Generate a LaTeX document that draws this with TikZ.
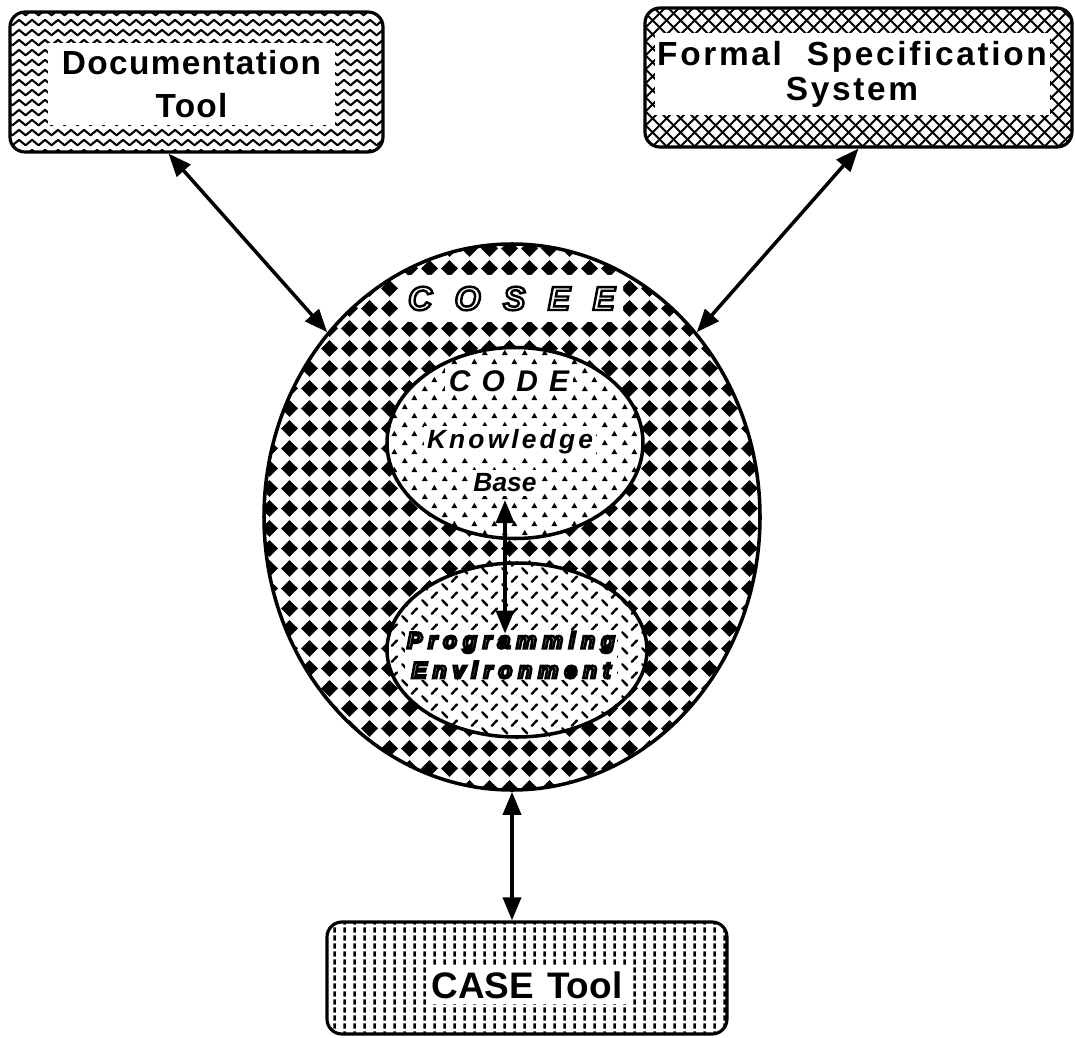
\documentclass[tikz,border=0pt]{standalone}
\usepackage{fontspec}
\setmainfont{Liberation Sans}
\usepackage{xcolor}
\usetikzlibrary{
    arrows.meta,
    shapes,
    positioning,
    patterns
}
% fill tiles
\pgfdeclarepatternformonly{checker}{\pgfpointorigin}{\pgfqpoint{11.4pt}{11.4pt}}{\pgfqpoint{11.4pt}{11.4pt}}{%
    \pgfpathmoveto{\pgfqpoint{0.7pt}{5.7pt}}\pgfpathlineto{\pgfqpoint{5.7pt}{10.7pt}}%
    \pgfpathlineto{\pgfqpoint{10.7pt}{5.7pt}}\pgfpathlineto{\pgfqpoint{5.7pt}{0.7pt}}\pgfpathclose
    \pgfusepath{fill}}
\pgfdeclarepatternformonly{waves}{\pgfpointorigin}{\pgfqpoint{7.4pt}{5.7pt}}{\pgfqpoint{7.4pt}{5.7pt}}{%
    \pgfsetlinewidth{1.3pt}\pgfsetroundjoin
    \pgfpathmoveto{\pgfqpoint{-0.5pt}{0.9pt}}\pgfpathlineto{\pgfqpoint{3.7pt}{4.4pt}}%
    \pgfpathlineto{\pgfqpoint{7.9pt}{0.9pt}}\pgfusepath{stroke}}
\pgfdeclarepatternformonly{crosses}{\pgfpointorigin}{\pgfqpoint{8pt}{8pt}}{\pgfqpoint{8pt}{8pt}}{%
    \pgfsetlinewidth{1.2pt}
    \pgfpathmoveto{\pgfqpoint{-1pt}{-1pt}}\pgfpathlineto{\pgfqpoint{9pt}{9pt}}%
    \pgfpathmoveto{\pgfqpoint{-1pt}{9pt}}\pgfpathlineto{\pgfqpoint{9pt}{-1pt}}\pgfusepath{stroke}}
\pgfdeclarepatternformonly{carets}{\pgfpointorigin}{\pgfqpoint{11.4pt}{10.2pt}}{\pgfqpoint{11.4pt}{10.2pt}}{%
    \pgfpathmoveto{\pgfqpoint{1.1pt}{1.1pt}}\pgfpathlineto{\pgfqpoint{2.85pt}{4.1pt}}\pgfpathlineto{\pgfqpoint{4.6pt}{1.1pt}}\pgfpathclose
    \pgfpathmoveto{\pgfqpoint{6.8pt}{6.2pt}}\pgfpathlineto{\pgfqpoint{8.55pt}{9.2pt}}\pgfpathlineto{\pgfqpoint{10.3pt}{6.2pt}}\pgfpathclose
    \pgfusepath{fill}}
\pgfdeclarepatternformonly{ticks}{\pgfpointorigin}{\pgfqpoint{11.4pt}{9.1pt}}{\pgfqpoint{11.4pt}{9.1pt}}{%
    \pgfsetlinewidth{1.4pt}\pgfsetroundcap
    \pgfpathmoveto{\pgfqpoint{1.3pt}{3.9pt}}\pgfpathlineto{\pgfqpoint{4.4pt}{0.8pt}}%
    \pgfpathmoveto{\pgfqpoint{7pt}{5.2pt}}\pgfpathlineto{\pgfqpoint{10.1pt}{8.3pt}}\pgfusepath{stroke}}
\pgfdeclarepatternformonly{dashcols}{\pgfpointorigin}{\pgfqpoint{5.7pt}{4.55pt}}{\pgfqpoint{5.7pt}{4.55pt}}{%
    \pgfsetlinewidth{1.6pt}
    \pgfpathmoveto{\pgfqpoint{2.85pt}{0.8pt}}\pgfpathlineto{\pgfqpoint{2.85pt}{3.7pt}}\pgfusepath{stroke}}
% hollow letters: stroke only
\newcommand\outl[2][0.9]{\special{pdf:literal direct 1 Tr #1 w}#2\special{pdf:literal direct 0 Tr}}
\tikzset{%
    >={Triangle[width=3.6mm,length=4.6mm]},
    % boxes, blobs and their texts
    toolbox/.style = {rectangle, rounded corners=0.3cm, draw=black, line width=1.8pt, inner sep=0pt},
    whitebox/.style = {rectangle, fill=white, align=center, inner sep=0pt,
        font=\bfseries\fontsize{19}{24}\selectfont},
    blob/.style = {ellipse, draw=black, line width=2pt, inner sep=0pt, preaction={fill=white}},
    blobtext/.style = {fill=white, align=center, inner sep=2pt},
    link/.style = {<->, line width=2pt}
}
\begin{document}
\begin{tikzpicture}
\useasboundingbox (0,0) rectangle (21.5,-20.76);
% the three tools
\node[toolbox, pattern=waves, minimum width=7.46cm, minimum height=2.8cm] (doc) at (3.93,-1.64) {};
\node[whitebox, minimum width=5.74cm, minimum height=1.64cm] (doctext) at (3.83,-1.68)
    {\addfontfeature{LetterSpace=4}Documentation\hspace{0.6cm}\\\addfontfeature{LetterSpace=4}Tool\hspace{0.6cm}};
\node[toolbox, pattern=crosses, minimum width=8.54cm, minimum height=2.78cm] (formal) at (17.17,-1.55) {};
\node[whitebox, minimum width=7.9cm, minimum height=1.64cm, font=\bfseries\fontsize{19}{20}\selectfont] (formaltext) at (17.04,-1.48)
    {\addfontfeature{LetterSpace=8}Formal\hspace{0.5cm}Specification\\\addfontfeature{LetterSpace=8}System\hspace{1.1cm}};
\node[toolbox, pattern=dashcols, minimum width=8cm, minimum height=2.24cm] (case) at (10.54,-19.56) {};
\node[whitebox, inner sep=3pt, font=\bfseries\fontsize{21}{24}\selectfont] (casetext) at (10.54,-19.7) {CASE\hspace{0.35em}Tool};
% the environment
\node[blob, pattern=checker, minimum width=9.92cm, minimum height=10.92cm] (cosee) at (10.24,-10.34) {};
\node[fill=white, rounded corners=0.2cm, minimum width=4.46cm, minimum height=0.94cm, inner sep=0pt,
    font=\bfseries\itshape\fontsize{19}{20}\selectfont] (coseelabel) at (10.23,-5.97)
    {\outl[1.4]{C\hspace{0.45cm}O\hspace{0.45cm}S\hspace{0.45cm}E\hspace{0.45cm}E}};
\node[blob, pattern=carets, minimum width=5.12cm, minimum height=3.82cm] (kb) at (10.3,-8.86) {};
\node[blob, pattern=ticks, minimum width=5.2cm, minimum height=3.48cm] (pe) at (10.34,-13) {};
\node[blobtext, font=\bfseries\itshape\fontsize{17}{18}\selectfont] (code) at (10.18,-7.62)
    {\addfontfeature{LetterSpace=38}CODE};
\node[blobtext, font=\bfseries\itshape\fontsize{15}{16}\selectfont] (know) at (10.2,-8.84)
    {\addfontfeature{LetterSpace=12}Knowledge};
\node[blobtext, font=\bfseries\itshape\fontsize{15}{16}\selectfont] (base) at (10.1,-9.66) {Base};
\node[blobtext, inner sep=1pt, font=\bfseries\itshape\fontsize{13}{17}\selectfont] (prog) at (10.22,-13.1)
    {\outl[1.5]{\addfontfeature{LetterSpace=26}Programming}\\
     \outl[1.5]{\addfontfeature{LetterSpace=26}Environment}};
% links
\draw[link] ([xshift=-0.56cm]doc.south) -- (cosee.135);
\draw[link] (formal.south) -- (cosee.45);
\draw[link] (cosee.south) -- (cosee.south |- case.north);
\draw[link] ([yshift=-0.08cm]base.south) -- ([yshift=-0.08cm]base.south |- prog.north);
\end{tikzpicture}
\end{document}
